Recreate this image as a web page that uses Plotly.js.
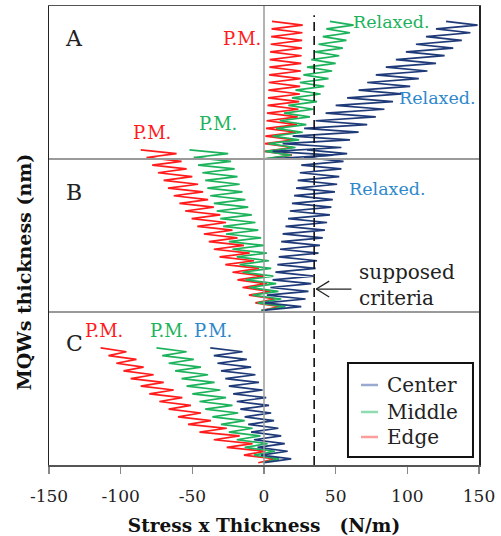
<!DOCTYPE html>
<html>
<head>
<meta charset="utf-8">
<script src="https://cdn.plot.ly/plotly-3.0.1.min.js"></script>
<style>html,body{margin:0;padding:0;background:#fff}#chart{width:501px;height:536px}</style>
</head>
<body>
<div id="chart"></div>
<script>
// Vertex heights of each zigzag (left / right turning points), per panel
const yA_left  = [200,205,210,215,220,225,230,235,240,245,250,255,260,265,270,275,280,285,290];
const yA_right = [202.5,207.5,212.5,217.5,222.5,227.5,232.5,237.5,242.5,247.5,252.5,257.5,262.5,267.5,272.5,277.5,282.5,287.5];
const yB_left  = [101,106,111,116,121,126,131,136,141,146,151,156,161,166,171,176,181,186,191,196,201,206];
const yB_right = [103.5,108.5,113.5,118.5,123.5,128.5,133.5,138.5,143.5,148.5,153.5,158.5,163.5,168.5,173.5,178.5,183.5,188.5,193.5,198.5,203.5];
const yC_left  = [1.5,6.5,11.5,16.5,21.5,26.5,31.5,36.5,41.5,46.5,51.5,56.5,61.5,66.5,71.5,76.5];
const yC_right = [4,9,14,19,24,29,34,39,44,49,54,59,64,69,74];

// Stress x thickness at the turning points (N/m)
const centerA_L = [2,6,13,20,28,36,43,50,58,66,72,78,85,92,99,106,113,120,127];
const centerA_R = [48,54,60,66,72,78,84,90,96,102,108,114,120,126,132,138,144,149];
const middleA_L = [-1,1,3,6,8.5,11,14,17,19.5,22,25,27.5,30,33,35.5,38,41,43.5,46];
const middleA_R = [19,22,24.5,27,29.5,32,34.5,37,39.5,42,45,47.5,50,52.5,55,57.5,60,62.5];
const edgeA_L   = [0,0.3,0.6,1,1.4,1.8,2.1,2.5,2.8,3.1,3.3,3.6,3.8,4,4.3,4.7,5,5.3,5.6];
const edgeA_R   = [19.5,20.3,21.2,22.2,23,23.5,24,24.5,25,25.2,25.5,25.7,26,26.2,26.4,26.6,26.8,27];

const centerB_L = [-1,0.5,2,4.5,6,8,9.3,10.3,11.2,12,13,15,16.8,18,19.5,21,22.4,23.5,25,26,28,30];
const centerB_R = [26,29,31,33,34.5,36,37,38,39,41,42.5,44,46,47,48,49.5,51,52.5,54,55.5,58];
const middleB_L = [-2,-4.5,-8,-10.5,-13,-15,-17,-19,-22,-24.5,-26.5,-28.5,-30.5,-33,-35,-37.5,-39.5,-41,-43,-46,-49,-52];
const middleB_R = [15,12,10,8.5,6.5,5,3.5,2,0,-2,-4,-6,-8.5,-11,-13,-15,-17,-18.5,-20.5,-23,-25];
const edgeB_L   = [-2,-6,-10.5,-15,-18.5,-22,-27,-31,-35,-38.5,-42,-46.5,-50.5,-55,-59,-63,-67,-70,-74,-78,-82,-86];
const edgeB_R   = [11,7.5,4.5,2,0,-3.5,-7,-10,-14,-18.5,-22,-26.5,-30.5,-35,-39,-42.5,-46,-50,-54,-57.5,-61];

const centerC_L = [0,-2,-4.5,-7,-9,-11,-13.5,-16.5,-19,-21.5,-24.5,-27,-30,-32.5,-35,-37.5];
const centerC_R = [19,16.5,14.5,12,10,7,5,3.5,1.5,-1,-3.5,-6,-9,-12,-15];
const middleC_L = [-1,-7,-13.5,-19,-24.5,-30,-36,-41,-45,-50,-54,-57.5,-62,-66.5,-71,-75];
const middleC_R = [10.5,7.5,2.5,-2.5,-8,-13.5,-18,-22,-26.5,-30.5,-34.5,-39,-44,-49,-54];
const edgeC_L   = [-4,-14,-26,-35,-45,-53,-60,-66.5,-73,-80,-86,-93,-98,-103,-108.5,-114];
const edgeC_R   = [8,1,-8,-17,-26,-37,-44,-51,-57,-63,-70,-77,-84,-89,-96];

const seriesNames = ['Center','Middle','Edge'];
const xTicks = [-150,-100,-50,0,50,100,150];
const criteriaX = 35;

const COL = {Center:'#1f3a78', Middle:'#1db35c', Edge:'#ff1c1c'};
const PALE = {Center:'#9aa9cf', Middle:'#8fdcb0', Edge:'#ff9c9c'};
const FONT = 'DejaVu Serif, Liberation Serif, serif';

function zig(xl, xr, yl, yr) {
  const x = [], y = [];
  for (let i = 0; i < xr.length; i++) {
    x.push(xl[i]); y.push(yl[i]);
    x.push(xr[i]); y.push(yr[i]);
  }
  x.push(xl[xl.length-1]); y.push(yl[yl.length-1]);
  return {x, y};
}

const sets = [
  ['Edge',   edgeA_L,   edgeA_R,   yA_left, yA_right],
  ['Middle', middleA_L, middleA_R, yA_left, yA_right],
  ['Center', centerA_L, centerA_R, yA_left, yA_right],
  ['Edge',   edgeB_L,   edgeB_R,   yB_left, yB_right],
  ['Middle', middleB_L, middleB_R, yB_left, yB_right],
  ['Center', centerB_L, centerB_R, yB_left, yB_right],
  ['Edge',   edgeC_L,   edgeC_R,   yC_left, yC_right],
  ['Middle', middleC_L, middleC_R, yC_left, yC_right],
  ['Center', centerC_L, centerC_R, yC_left, yC_right]
];

const traces = sets.map(s => {
  const p = zig(s[1], s[2], s[3], s[4]);
  return {type:'scatter', mode:'lines', x:p.x, y:p.y, name:s[0], showlegend:false,
          line:{color:COL[s[0]], width:1.7}, hoverinfo:'skip'};
});

function txt(x, y, t, color, size, extra) {
  return Object.assign({x, y, xref:'x', yref:'y', text:t, showarrow:false,
    xanchor:'center', yanchor:'middle',
    font:{family:FONT, size:size, color:color}}, extra || {});
}

const annotations = [
  txt(-132.6, 279, 'A', '#222', 22),
  txt(-132.6, 178.4, 'B', '#222', 22),
  txt(-132, 79.7, 'C', '#222', 22),
  txt(-15.4, 279, 'P.M.', COL.Edge, 18),
  txt(-78, 217.6, 'P.M.', COL.Edge, 18),
  txt(-32, 223, 'P.M.', COL.Middle, 18),
  txt(89, 289.5, 'Relaxed.', COL.Middle, 17.5),
  txt(120.7, 240, 'Relaxed.', '#2e88cc', 17.5),
  txt(86.5, 180.4, 'Relaxed.', '#2e88cc', 17.5),
  txt(-111.7, 87.6, 'P.M.', COL.Edge, 18),
  txt(-66.3, 87.6, 'P.M.', COL.Middle, 18),
  txt(-35.6, 87.6, 'P.M.', '#2e88cc', 18),
  txt(65, 126, 'supposed', '#222', 20, {xanchor:'left'}),
  txt(65, 109, 'criteria', '#222', 20, {xanchor:'left'}),
  {xref:'paper', yref:'paper', x:-0.058, y:0.42, xanchor:'center', yanchor:'middle',
   text:'<b>MQWs thickness (nm)</b>', textangle:-90,
   showarrow:false, font:{family:FONT, size:19, color:'#111'}}
];

// manual legend
const legRows = [0.1743, 0.1155, 0.0610];
const shapes = [
  {type:'line', xref:'paper', yref:'y', x0:0, x1:1, y0:100, y1:100, line:{color:'#9a9a9a', width:2}},
  {type:'line', xref:'paper', yref:'y', x0:0, x1:1, y0:200, y1:200, line:{color:'#9a9a9a', width:2}},
  {type:'line', xref:'x', yref:'paper', x0:0, x1:0, y0:0, y1:1, line:{color:'#9a9a9a', width:1.5}},
  {type:'line', xref:'x', yref:'paper', x0:criteriaX, x1:criteriaX, y0:0, y1:0.98, line:{color:'#111', width:1.6, dash:'9px,5px'}},
  {type:'line', xref:'x', yref:'y', x0:36.5, x1:61, y0:115, y1:115, line:{color:'#222', width:1.3}},
  {type:'line', xref:'x', yref:'y', x0:36.5, x1:45.5, y0:115, y1:120.2, line:{color:'#222', width:1.3}},
  {type:'line', xref:'x', yref:'y', x0:36.5, x1:45.5, y0:115, y1:109.8, line:{color:'#222', width:1.3}},
  {type:'rect', xref:'paper', yref:'paper', x0:0.6953, x1:0.9860, y0:0.0174, y1:0.2222,
   line:{color:'#111', width:2}, fillcolor:'#fff'}
];
seriesNames.forEach((n, i) => {
  shapes.push({type:'line', xref:'paper', yref:'paper', x0:0.7256, x1:0.7651, y0:legRows[i], y1:legRows[i],
    line:{color:PALE[n], width:2.5}});
  annotations.push({xref:'paper', yref:'paper', x:0.7814, y:legRows[i], xanchor:'left', yanchor:'middle', text:n,
    showarrow:false, font:{family:FONT, size:20, color:'#222'}});
});

const layout = {
  width:501, height:536,
  margin:{l:49, r:22, t:6, b:71},
  paper_bgcolor:'#fff', plot_bgcolor:'#fff',
  showlegend:false,
  xaxis:{range:[-150,150], tickvals:xTicks, ticktext:xTicks.map(String), ticks:'outside', ticklen:7,
         tickwidth:1.5, tickcolor:'#888', showgrid:false, zeroline:false, showline:true, mirror:true,
         linecolor:'#555', linewidth:1.5, ticklabelstandoff:8, tickfont:{family:FONT, size:17, color:'#222'},
         title:{text:'<b>Stress x Thickness\u3000(N/m)</b>', font:{family:FONT, size:18.5, color:'#111'}, standoff:16}},
  yaxis:{range:[0,300], showticklabels:false, ticks:'', showgrid:false, zeroline:false, showline:true,
         mirror:true, linecolor:'#222', linewidth:1.5},
  shapes, annotations
};

Plotly.newPlot('chart', traces, layout, {staticPlot:true, displayModeBar:false});
</script>
</body>
</html>
